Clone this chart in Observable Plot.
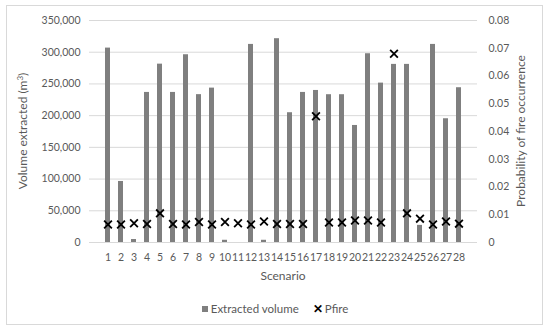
<!DOCTYPE html>
<html>
<head>
<meta charset="utf-8">
<script src="https://cdn.jsdelivr.net/npm/d3@7"></script>
<script src="https://cdn.jsdelivr.net/npm/@observablehq/plot@0.6"></script>
<style>
  html, body { margin: 0; padding: 0; background: #fff; }
  #wrap { position: relative; width: 550px; height: 333px; font-family: Lato, "Open Sans", sans-serif; color: #595959; }
  #frame { position: absolute; left: 6px; top: 5px; width: 537px; height: 320px; border: 1px solid #d9d9d9; box-sizing: border-box; pointer-events: none; }
  #legend { position: absolute; left: 0; width: 550px; top: 302px; text-align: center; font-size: 11.5px; }
  #legend span.item { display: inline-block; margin: 0 7px; }
  #legend .sq { display: inline-block; width: 6px; height: 6px; background: #7f7f7f; margin-right: 3px; vertical-align: 1px; }
  #legend .x { color: #000; font-weight: bold; margin-right: 2px; }
  .title { position: absolute; font-size: 12px; white-space: nowrap; line-height: 1; }
  .rot { transform: translate(-50%, -50%) rotate(-90deg); }
  .hz { transform: translate(-50%, -50%); }
</style>
</head>
<body>
<div id="wrap">
  <div id="chart"></div>
  <div id="frame"></div>
  <div class="title rot" style="left:23px; top:131px;">Volume extracted (m<sup style="font-size:8px; vertical-align: 4px; line-height:0">3</sup>)</div>
  <div class="title rot" style="left:521px; top:131px;">Probability of fire occurrence</div>
  <div class="title hz" style="left:283px; top:276px;">Scenario</div>
  <div id="legend"><span class="item"><span class="sq"></span>Extracted volume</span><span class="item"><span class="x">✕</span>Pfire</span></div>
</div>
<script>
const scenarios = d3.range(1, 29);
const volume = [306500, 96200, 4700, 236600, 281200, 236600, 296000, 233100, 243400, 3500,
  0, 312300, 3500, 321300, 204600, 236600, 239700, 233000, 233000, 184500,
  297600, 251300, 280800, 280800, 27000, 312300, 195100, 244000];
const pfire = [0.0065, 0.0065, 0.0069, 0.0067, 0.0105, 0.0067, 0.0065, 0.0074, 0.0065, 0.0074,
  0.0069, 0.0065, 0.0076, 0.0067, 0.0067, 0.0067, 0.0455, 0.0072, 0.0072, 0.0079,
  0.0079, 0.0072, 0.068, 0.0105, 0.0086, 0.0065, 0.0076, 0.0068];
const leftTicks = [0, 50000, 100000, 150000, 200000, 250000, 300000, 350000];
const rightTicks = [0, 0.01, 0.02, 0.03, 0.04, 0.05, 0.06, 0.07, 0.08];

const yMax = 350000, pMax = 0.08, k = yMax / pMax;
const data = scenarios.map((s, i) => ({s, v: volume[i], p: pfire[i]}));

const textColor = "#595959";
const chart = Plot.plot({
  width: 550,
  height: 333,
  marginLeft: 89,
  marginRight: 73,
  marginTop: 20,
  marginBottom: 91,
  style: {fontFamily: "Lato, 'Open Sans', sans-serif", fontSize: "10.5px", color: textColor, background: "transparent"},
  x: {type: "band", domain: scenarios, paddingInner: 0.64, paddingOuter: 0.32},
  y: {domain: [0, yMax]},
  marks: [
    Plot.gridY(leftTicks, {stroke: "#d9d9d9", strokeOpacity: 1}),
    Plot.barY(data, {x: "s", y: "v", fill: "#7f7f7f"}),
    Plot.dot(data, {x: "s", y: d => d.p * k, symbol: "times", r: 3.6, stroke: "#000", strokeWidth: 1.8}),
    Plot.axisY(leftTicks, {anchor: "left", tickSize: 0, tickPadding: 9, tickFormat: d3.format(","), fill: textColor, label: null}),
    Plot.axisY(rightTicks.map(t => t * k), {anchor: "right", tickSize: 0, tickPadding: 11, fill: textColor,
      tickFormat: d => String(+(d / k).toFixed(2)), label: null}),
    Plot.axisX({tickSize: 0, tickPadding: 11, fill: textColor, label: null}),
  ]
});
document.getElementById("chart").appendChild(chart);
</script>
</body>
</html>
